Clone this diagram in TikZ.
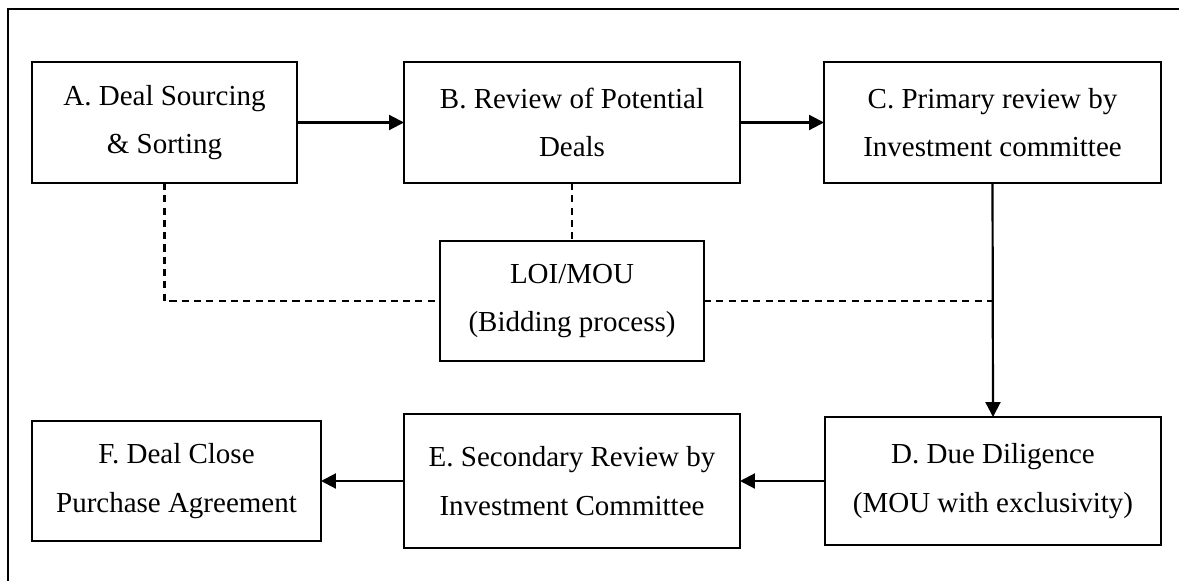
\documentclass[tikz,border=0pt]{standalone}
\usepackage{fontspec}
\setmainfont{Liberation Serif}
\usetikzlibrary{arrows.meta}
\begin{document}
\begin{tikzpicture}[x=0.02cm,y=-0.02cm,inner sep=0pt,outer sep=0pt,line width=1.25pt,
stagebox/.style={draw,rectangle,align=center,line width=1.25pt,
  font=\fontsize{16.5}{27.6}\selectfont},
flowarrow/.style={-{Triangle[length=8.5pt,width=8.5pt]}},
linkline/.style={dashed,dash pattern=on 4pt off 3pt}]
\useasboundingbox (0,0) rectangle (1179,581);
% outer frame, cut off at right and bottom
\draw (8,581) -- (8,9) -- (1179,9);
% stages
\draw (164.5,122.5) node[stagebox,minimum width=265*0.02cm,minimum height=121*0.02cm] (A) {A. Deal Sourcing\\\& Sorting};
\draw (572,122.5) node[stagebox,minimum width=336*0.02cm,minimum height=121*0.02cm] (B) {B. Review of Potential\\Deals};
\draw (992.5,122.5) node[stagebox,minimum width=337*0.02cm,minimum height=121*0.02cm] (C) {C. Primary review by\\Investment committee};
\draw (572,301) node[stagebox,minimum width=264*0.02cm,minimum height=120*0.02cm] (loi) {LOI/MOU\\(Bidding process)};
\draw (993,481) node[stagebox,minimum width=336*0.02cm,minimum height=128*0.02cm] (D) {D. Due Diligence\\(MOU with exclusivity)};
\draw (572,481) node[stagebox,minimum width=336*0.02cm,minimum height=134*0.02cm] (E) {E. Secondary Review by\\Investment Committee};
\draw (176.5,481) node[stagebox,minimum width=289*0.02cm,minimum height=120*0.02cm] (F) {F. Deal Close\\Purchase Agreement};
% main flow
\draw[flowarrow] (A.east) -- (B.west);
\draw[flowarrow] (B.east) -- (C.west);
\draw[flowarrow] (C.south) -- (D.north);
\draw[flowarrow] (D.west) -- (E.east);
\draw[flowarrow] (E.west) -- (F.east);
% links to LOI/MOU
\coordinate (tap) at (loi.east -| C.south);
\draw[linkline] (A.south) |- (loi.west);
\draw[linkline] (B.south) -- (loi.north);
\draw[linkline] (loi.east) -- (tap);
\end{tikzpicture}
\end{document}
